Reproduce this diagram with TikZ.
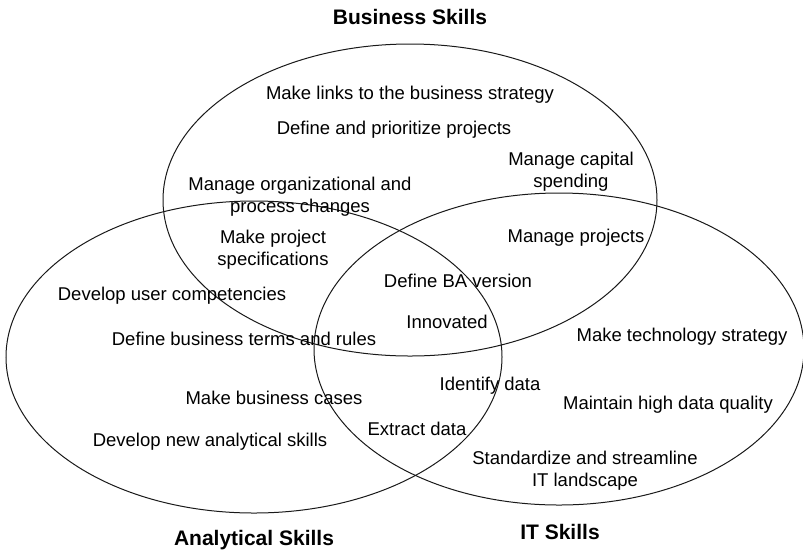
\documentclass[tikz,border=0pt]{standalone}
\usepackage{fontspec}
\setmainfont{Liberation Sans}

\begin{document}
\begin{tikzpicture}[x=1pt, y=-1pt,
  every node/.style={font=\fontsize{18.5}{22}\selectfont, align=center, inner sep=0pt, anchor=base},
  skillset/.style={draw=black!90, line width=1pt},
  settitle/.style={font=\fontsize{21}{25}\selectfont\bfseries}]

\useasboundingbox (0,0) rectangle (803,550);

% The three skill sets
\draw[skillset] (410,200) ellipse (247 and 156);
\draw[skillset] (254,357) ellipse (248 and 156);
\draw[skillset] (559,349) ellipse (245 and 156);

% Set titles
\node[settitle] (bizTitle) at (410,24.5) {Business Skills};
\node[settitle] (anaTitle) at (254,545) {Analytical Skills};
\node[settitle] (itTitle) at (560,539.5) {IT Skills};

% Business only (two-line nodes sit on their last line)
\node (links) at (410,99.5) {Make links to the business strategy};
\node (prioritize) at (394,134.5) {Define and prioritize projects};
\node (capital) at (571,187.5) {Manage capital\\spending};

% Business and analytical
\node (orgChange) at (300,212.5) {Manage organizational and\\process changes};
\node (projSpec) at (273,265.5) {Make project\\specifications};

% Business and IT
\node (manageProj) at (576,242.5) {Manage projects};

% All three
\node (baVersion) at (458,287.5) {Define BA version};
\node (innovated) at (447,328.5) {Innovated};

% Analytical only
\node (userComp) at (172,300.5) {Develop user competencies};
\node (termsRules) at (244,345.5) {Define business terms and rules};
\node (busCases) at (274,404.5) {Make business cases};
\node (newSkills) at (210,446.5) {Develop new analytical skills};

% Analytical and IT
\node (identifyData) at (490,390.5) {Identify data};
\node (extractData) at (417,435.5) {Extract data};

% IT only
\node (techStrategy) at (682,341.5) {Make technology strategy};
\node (dataQuality) at (668,409.5) {Maintain high data quality};
\node (streamline) at (585,486.5) {Standardize and streamline\\IT landscape};

\end{tikzpicture}
\end{document}
